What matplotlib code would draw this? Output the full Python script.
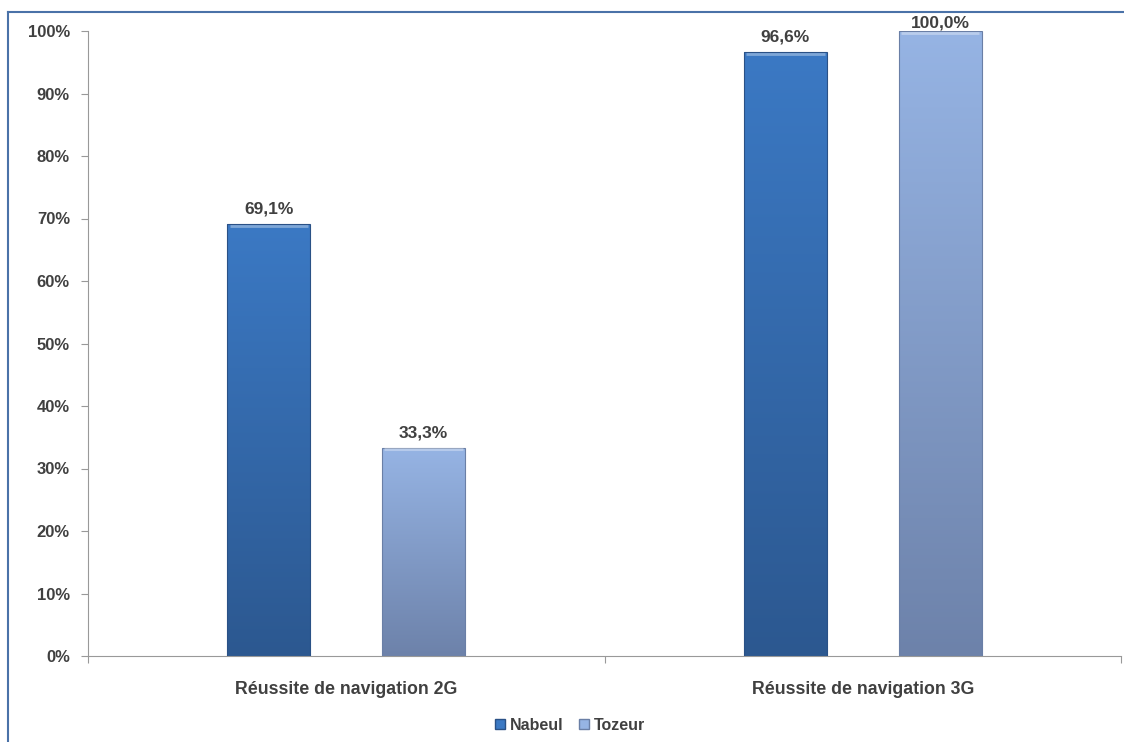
import matplotlib.pyplot as plt
import numpy as np
from matplotlib.colors import LinearSegmentedColormap
from matplotlib.lines import Line2D
from matplotlib.patches import Patch

plt.rcParams['font.family'] = ['Liberation Sans', 'DejaVu Sans']

categories = ['Réussite de navigation 2G', 'Réussite de navigation 3G']
series_names = ['Nabeul', 'Tozeur']
nabeul = [69.1, 96.6]
tozeur = [33.3, 100.0]
yticks = [0, 10, 20, 30, 40, 50, 60, 70, 80, 90, 100]

# gradient colours (top, bottom) for each series
grad = {'Nabeul': ('#3B79C4', '#2C5890'),
        'Tozeur': ('#96B4E4', '#6D82AA')}
edge = {'Nabeul': '#2A5186', 'Tozeur': '#6A7FA6'}

fig = plt.figure(figsize=(11.24, 7.42), dpi=100)
ax = fig.add_axes([88/1124, 1 - 656/742, 1033/1124, 625/742])

x = np.arange(len(categories))
w = 0.16
off = 0.15
txt = '#404040'

for name, vals, sgn in [('Nabeul', nabeul, -1), ('Tozeur', tozeur, 1)]:
    bars = ax.bar(x + sgn*off, vals, w, color='none', edgecolor=edge[name], lw=0.8, zorder=3)
    cmap = LinearSegmentedColormap.from_list(name, [grad[name][1], grad[name][0]])
    for b, v in zip(bars, vals):
        x0 = b.get_x()
        grd = np.linspace(0, 1, 256).reshape(-1, 1)
        im = ax.imshow(grd, cmap=cmap, origin='lower', aspect='auto',
                       extent=[x0, x0 + w, 0, v], zorder=2)
        im.set_clip_path(b)
        # light bevel at the top of the bar
        ax.plot([x0 + 0.004, x0 + w - 0.004], [v - 0.25, v - 0.25], color='white',
                alpha=0.35, lw=2, zorder=4, solid_capstyle='butt')
        ax.text(x0 + w/2, min(v + 1.2, 100), f'{v:.1f}%'.replace('.', ','), ha='center',
                va='bottom', fontsize=12.5, fontweight='bold', color=txt, zorder=5)

ax.set_xlim(-0.5, 1.5)
ax.set_ylim(0, 100)
ax.set_yticks(yticks)
ax.set_yticklabels([f'{t}%' for t in yticks], fontsize=12, fontweight='bold', color=txt)
ax.set_xticks([-0.5, 0.5, 1.5], minor=False)
ax.set_xticklabels([])
ax.set_xticks(x, minor=True)
ax.set_xticklabels(categories, minor=True, fontsize=12.8, fontweight='bold', color=txt)
ax.tick_params(axis='x', which='minor', length=0, pad=18)
ax.tick_params(axis='x', which='major', length=5, color='#999999')
ax.tick_params(axis='y', length=5, color='#999999', pad=8)
for s in ['top', 'right']:
    ax.spines[s].set_visible(False)
ax.spines['left'].set_color('#999999')
ax.spines['bottom'].set_color('#999999')

handles = [Patch(facecolor=grad['Nabeul'][0], edgecolor=edge['Nabeul']),
           Patch(facecolor=grad['Tozeur'][0], edgecolor=edge['Tozeur'])]
fig.legend(handles, series_names, loc='center', bbox_to_anchor=(570/1124, 1 - 725/742),
           ncol=2, frameon=False, handlelength=0.6, handleheight=0.6, handletextpad=0.3,
           columnspacing=1.0, prop={'size': 11.5, 'weight': 'bold'}, labelcolor=txt)

# outer frame lines (left and top)
fig.add_artist(Line2D([8/1124, 8/1124], [0, 1 - 12/742], color='#4A72A8', lw=1.5))
fig.add_artist(Line2D([8/1124, 1], [1 - 12/742, 1 - 12/742], color='#4A72A8', lw=1.5))

fig.savefig('out.png', dpi=100)
